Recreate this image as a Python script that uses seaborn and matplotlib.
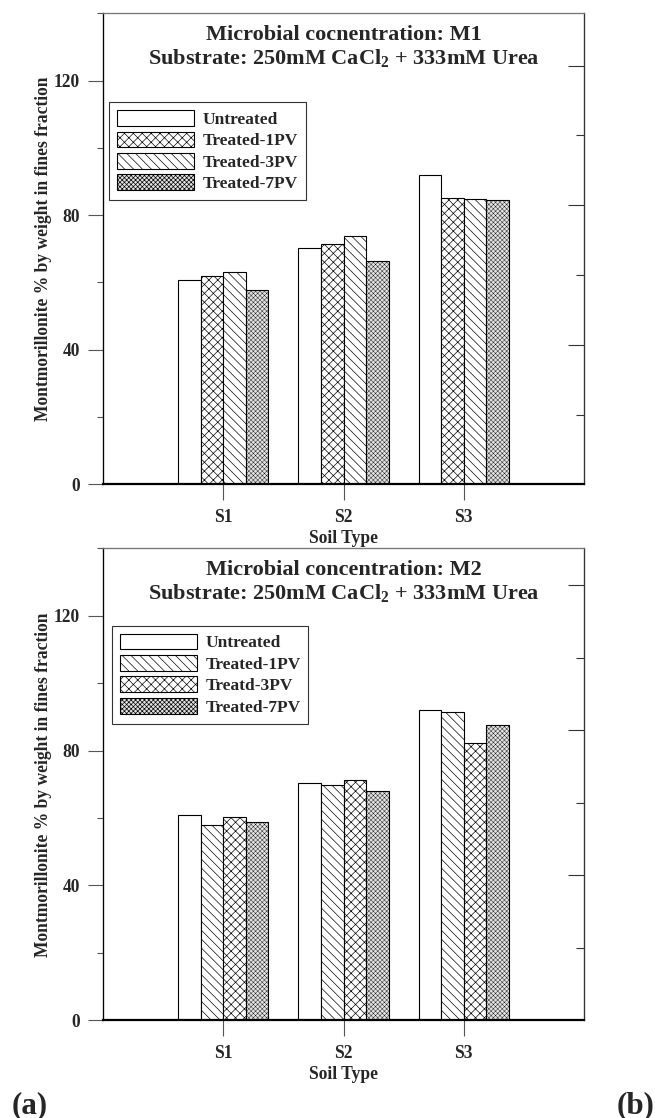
import numpy as np
import pandas as pd
import matplotlib
matplotlib.use("Agg")
import matplotlib.pyplot as plt
import seaborn as sns
from matplotlib.ticker import MultipleLocator, FixedLocator

# ---- data -------------------------------------------------------------
soils = ["S1", "S2", "S3"]

m1_labels = ["Untreated", "Treated-1PV", "Treated-3PV", "Treated-7PV"]
m1_untreated = [60.7, 70.1, 91.9]
m1_1pv = [62.0, 71.3, 85.2]
m1_3pv = [63.1, 73.9, 84.7]
m1_7pv = [57.9, 66.5, 84.6]

m2_labels = ["Untreated", "Treated-1PV", "Treatd-3PV", "Treated-7PV"]
m2_untreated = [60.8, 70.3, 91.9]
m2_1pv = [57.9, 69.9, 91.3]
m2_3pv = [60.4, 71.4, 82.2]
m2_7pv = [58.7, 68.0, 87.7]

# ---- styling ----------------------------------------------------------
DPI = 80
W, H = 655, 1118


def pt(px):
    """pixels -> points at the figure dpi"""
    return px * 72.0 / DPI


sns.set_style("white")
plt.rcParams.update({
    "font.family": ["Liberation Serif", "DejaVu Serif"],
    "font.weight": "bold",
    "axes.labelweight": "bold",
    "mathtext.fontset": "custom",
    "mathtext.rm": "Liberation Serif:bold",
    "mathtext.bf": "Liberation Serif:bold",
    "mathtext.it": "Liberation Serif:bold:italic",
    "mathtext.default": "bf",
    "hatch.linewidth": 0.6,
})

# (face colour, hatch, hatch line width)
PLAIN = ("white", "", 0.6)
CROSS = ("white", "xxx", 0.6)
DIAG = ("white", "\\\\\\", 0.6)
DOTS = ("#e2e2e2", "xxxxxx", 0.35)

TICK_PX = 17.5
LEG_PX = 17.4
TITLE_PX = 22.2
LABEL_PX = 17.5

fig = plt.figure(figsize=(W / DPI, H / DPI), dpi=DPI)
ax_top = fig.add_axes([103 / W, 1 - 484.3 / H, 481 / W, 471 / H])
ax_bot = fig.add_axes([103 / W, 1 - 1020.3 / H, 481 / W, 472 / H])


def panel(ax, series, labels, styles, title, right_major, right_minor, leg_anchor):
    df = pd.DataFrame({
        "Soil Type": soils * len(labels),
        "value": np.concatenate(series),
        "treatment": np.repeat(labels, len(soils)),
    })
    sns.barplot(data=df, x="Soil Type", y="value", hue="treatment",
                order=soils, hue_order=labels, palette=["white"] * len(labels),
                width=0.75, edgecolor="black", linewidth=1.0, saturation=1,
                errorbar=None, legend=False, ax=ax)
    for cont, (face, hatch, hlw) in zip(ax.containers, styles):
        for bar in cont:
            bar.set_facecolor(face)
            bar.set_hatch(hatch)
            bar.set_edgecolor("black")
            if hasattr(bar, "set_hatch_linewidth"):
                bar.set_hatch_linewidth(hlw)

    ax.set_xlim(-1, 3)
    ax.set_ylim(0, 140)
    ax.yaxis.set_major_locator(MultipleLocator(40))
    ax.yaxis.set_minor_locator(MultipleLocator(20))
    ax.tick_params(axis="y", which="major", direction="out", length=pt(15),
                   width=1, color="#555555", pad=pt(8), labelsize=pt(TICK_PX),
                   left=True)
    ax.tick_params(axis="y", which="minor", direction="out", length=pt(6),
                   width=1, color="#555555", left=True)
    ax.tick_params(axis="x", which="major", direction="out", length=pt(16),
                   width=1, color="#555555", pad=pt(9), labelsize=pt(17.5),
                   bottom=True)
    for lab in ax.get_xticklabels() + ax.get_yticklabels():
        lab.set_fontweight("bold")

    for side in ["left", "right", "top", "bottom"]:
        ax.spines[side].set_visible(True)
    ax.spines["left"].set_color("black")
    ax.spines["left"].set_linewidth(1.2)
    ax.spines["bottom"].set_color("black")
    ax.spines["bottom"].set_linewidth(2.0)
    ax.spines["top"].set_color("#777777")
    ax.spines["top"].set_linewidth(1.2)
    ax.spines["right"].set_color("#333333")
    ax.spines["right"].set_linewidth(1.2)

    ax.set_xlabel("Soil Type", fontsize=pt(LABEL_PX), labelpad=pt(4))
    ax.set_ylabel("Montmorillonite % by weight in fines fraction",
                  fontsize=pt(LABEL_PX))
    ax.yaxis.set_label_coords(-51 / 481, 0.5)

    ax.text(0.5, 1 - 27 / 471, title[0], ha="center", va="baseline",
            transform=ax.transAxes, fontsize=pt(TITLE_PX), fontweight="bold")
    ax.text(0.5, 1 - 51 / 471, title[1], ha="center", va="baseline",
            transform=ax.transAxes, fontsize=pt(TITLE_PX), fontweight="bold")

    leg = ax.legend(handles=list(ax.containers), labels=labels,
                    loc="upper left", bbox_to_anchor=leg_anchor,
                    borderaxespad=0, frameon=True, fancybox=False,
                    edgecolor="#333333", framealpha=1, fontsize=pt(LEG_PX),
                    handlelength=77 / LEG_PX, handleheight=18 / LEG_PX,
                    labelspacing=0.2, handletextpad=0.5, borderpad=0.45)
    leg.get_frame().set_linewidth(1.0)
    for t in leg.get_texts():
        t.set_fontweight("bold")

    # inner ticks along the right-hand frame
    tw = ax.twinx()
    tw.set_ylim(0, 140)
    tw.yaxis.set_major_locator(FixedLocator(right_major))
    tw.yaxis.set_minor_locator(FixedLocator(right_minor))
    tw.tick_params(axis="y", which="major", direction="in", length=pt(16),
                   width=1, color="#333333", labelright=False, right=True)
    tw.tick_params(axis="y", which="minor", direction="in", length=pt(8),
                   width=1, color="#333333", right=True)
    for sp in tw.spines.values():
        sp.set_visible(False)


panel(ax_top, [m1_untreated, m1_1pv, m1_3pv, m1_7pv], m1_labels,
      [PLAIN, CROSS, DIAG, DOTS],
      ("Microbial cocnentration: M1", "Substrate: 250mM CaCl$_2$ + 333mM Urea"),
      [41.5, 83.0, 124.3], [20.7, 62.2, 103.7],
      ((109.3 - 103) / 481, (484.3 - 102.3) / 471))

panel(ax_bot, [m2_untreated, m2_1pv, m2_3pv, m2_7pv], m2_labels,
      [PLAIN, DIAG, CROSS, DOTS],
      ("Microbial concentration: M2", "Substrate: 250mM CaCl$_2$ + 333mM Urea"),
      [43.0, 86.0, 129.2], [21.5, 64.5, 107.6],
      ((111.7 - 103) / 481, (1020.3 - 625.7) / 472))

fig.text(11.7 / W, 1 - 1113 / H, "(a)", fontsize=pt(31), fontweight="bold",
         va="baseline", ha="left")
fig.text((W - 1) / W, 1 - 1113 / H, "(b)", fontsize=pt(31), fontweight="bold",
         va="baseline", ha="right")

fig.savefig("out.png", dpi=DPI)
